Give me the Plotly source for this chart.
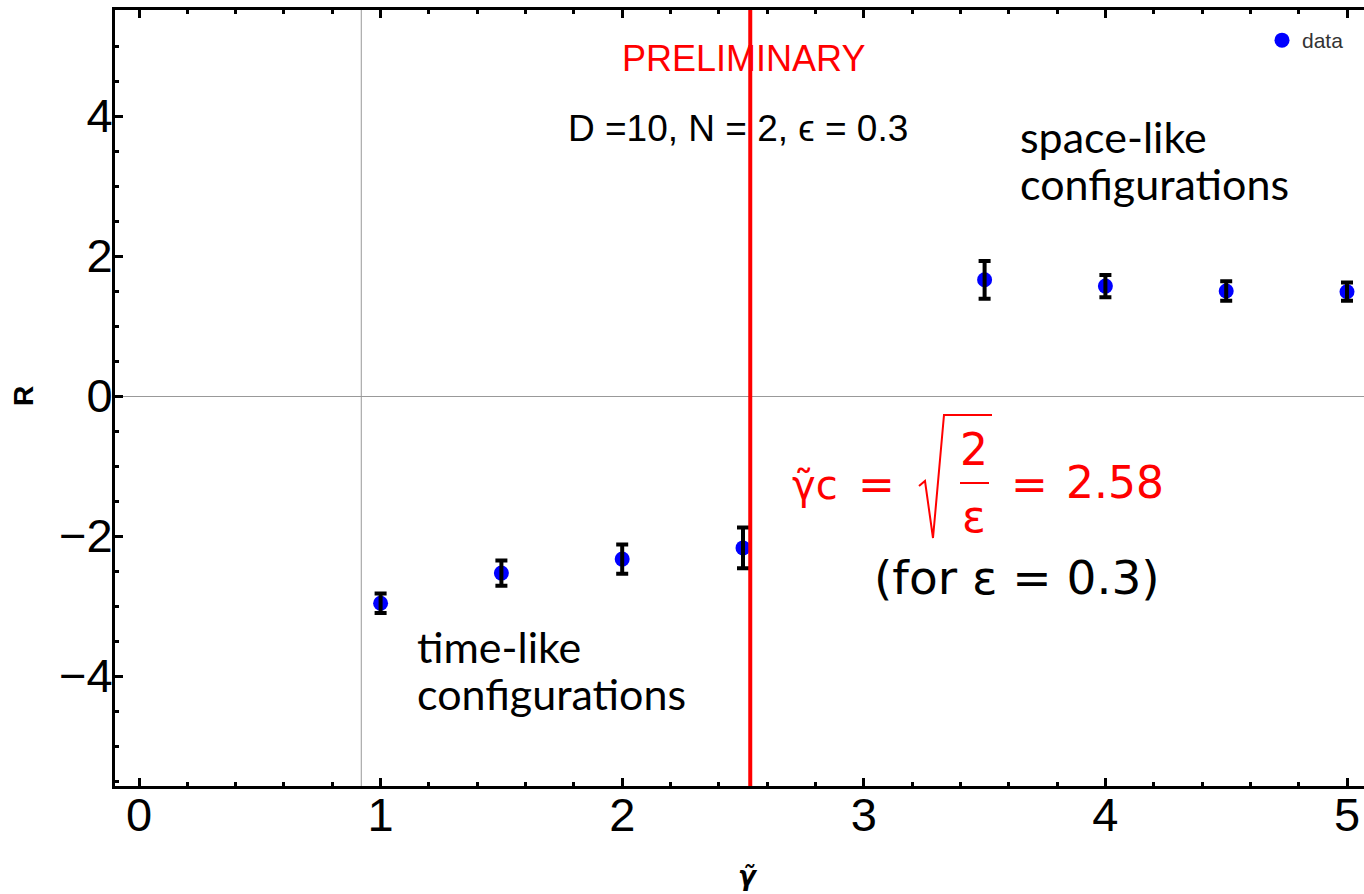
import plotly.graph_objects as go

# ---- data ----
gamma_tilde = [1.0, 1.5, 2.0, 2.5, 3.5, 4.0, 4.5, 5.0]
R_values = [-2.96, -2.53, -2.33, -2.17, 1.66, 1.57, 1.50, 1.49]
R_errors = [0.14, 0.18, 0.21, 0.29, 0.27, 0.16, 0.14, 0.13]
gamma_c_line = 2.53     # red vertical line
axis_origin_x = 0.92    # grey vertical axis line
x_ticks = [0, 1, 2, 3, 4, 5]
y_ticks = [-4, -2, 0, 2, 4]
y_ticktext = ["\u22124", "\u22122", "0", "2", "4"]

W, H = 1364, 894
L, R, T, B = 115, 0, 10, 108
PW, PH = W - L - R, H - T - B
PX_PER_X = 241.6
PX_PER_Y = 70.0
X0 = (L - 139) / PX_PER_X
X1 = X0 + PW / PX_PER_X
Y0 = -(786 - 396) / PX_PER_Y
Y1 = Y0 + PH / PX_PER_Y


def px(xp):
    return (xp - L) / PW


def py(yp):
    return ((T + PH) - yp) / PH


fig = go.Figure()
fig.add_trace(go.Scatter(
    x=gamma_tilde, y=R_values, mode="markers", name="data",
    marker=dict(color="#0000FF", size=15), cliponaxis=False,
))
fig.add_trace(go.Scatter(
    x=gamma_tilde, y=R_values, mode="markers", showlegend=False,
    marker=dict(color="rgba(0,0,0,0)", size=1),
    error_y=dict(type="data", array=R_errors, color="black", thickness=4, width=6),
    cliponaxis=False,
))

tickfont = dict(family="Liberation Sans, Arial", size=47, color="black")
fig.update_xaxes(
    range=[X0, X1], tickvals=x_ticks, ticks="inside", ticklen=8, tickwidth=3,
    tickcolor="black", showline=True, linewidth=3, linecolor="black",
    mirror="ticks", showgrid=False, zeroline=False, tickfont=tickfont,
    automargin=False, ticklabelstandoff=-14,
    minor=dict(dtick=0.2, tick0=0, ticks="inside", ticklen=4, tickwidth=3,
               tickcolor="black", showgrid=False),
)
fig.update_yaxes(
    range=[Y0, Y1], tickvals=y_ticks, ticktext=y_ticktext,
    ticks="inside", ticklen=8, tickwidth=3, tickcolor="black",
    showline=True, linewidth=3, linecolor="black", mirror=False,
    showgrid=False, zeroline=True, zerolinecolor="#999999", zerolinewidth=1,
    tickfont=tickfont, automargin=False, ticklabelstandoff=-10,
    minor=dict(dtick=0.5, tick0=0, ticks="inside", ticklen=4, tickwidth=3,
               tickcolor="black", showgrid=False),
)

shapes = [
    dict(type="line", xref="x", yref="paper", x0=axis_origin_x, x1=axis_origin_x,
         y0=0, y1=1, line=dict(color="#999999", width=1), layer="below"),
    dict(type="line", xref="x", yref="paper", x0=gamma_c_line, x1=gamma_c_line,
         y0=0, y1=1, line=dict(color="#FF0000", width=4), layer="above"),
    # sqrt sign
    dict(type="path", xref="paper", yref="paper",
         path=f"M {px(919)},{py(486)} L {px(925)},{py(481)} L {px(933)},{py(538)} "
              f"L {px(944)},{py(415)} L {px(992)},{py(415)}",
         line=dict(color="#FF0000", width=2)),
    # fraction bar
    dict(type="line", xref="paper", yref="paper", x0=px(960), x1=px(989),
         y0=py(483), y1=py(483), line=dict(color="#FF0000", width=2)),
]

sans = "Liberation Sans, Arial"
math = "DejaVu Sans"
body = "Lato, Open Sans"
ann = []


def add(text, x, y, size, color="black", family=sans, xanchor="center",
        yanchor="middle", **kw):
    ann.append(dict(text=text, x=px(x), y=py(y), xref="paper", yref="paper",
                    showarrow=False, xanchor=xanchor, yanchor=yanchor,
                    font=dict(family=family, size=size, color=color), **kw))


RED = "#FF0000"
add("PRELIMINARY", 743, 58, 36, color=RED)
add("D =10, N = 2, \u03f5 = 0.3", 738, 128, 37)
add("space-like", 1018, 136, 43, family=body, xanchor="left")
add("configurations", 1018, 184, 43, family=body, xanchor="left")
add("time-like", 415, 646, 43, family=body, xanchor="left")
add("configurations", 415, 693, 43, family=body, xanchor="left")
# gamma_c = sqrt(2/eps) = 2.58
add("\u03b3\u0303c", 790, 485, 40, color=RED, family=math, xanchor="left")
add("=", 877, 484, 44, color=RED, family=math)
add("2", 974, 449, 44, color=RED, family=math)
add("\u03b5", 974, 516, 44, color=RED, family=math)
add("=", 1029, 484, 44, color=RED, family=math)
add("2.58", 1064, 482, 44, color=RED, family=math, xanchor="left")
add("(for \u03b5 = 0.3)", 1017, 577, 47, family=math)
# axis titles
add("<b>R</b>", 23, 396, 28, textangle=-90)
add("<b><i>\u03b3\u0303</i></b>", 748, 876, 26, family=math)

fig.update_layout(
    width=W, height=H, margin=dict(l=L, r=R, t=T, b=B),
    plot_bgcolor="white", paper_bgcolor="white",
    shapes=shapes, annotations=ann,
    legend=dict(x=px(1262), y=py(20), xanchor="left", yanchor="top",
                bgcolor="rgba(0,0,0,0)",
                font=dict(family=sans, size=21, color="#333333")),
    showlegend=True,
)

fig.write_html("out.html", config={"displayModeBar": False},
               post_script="document.body.style.margin='0px';")
